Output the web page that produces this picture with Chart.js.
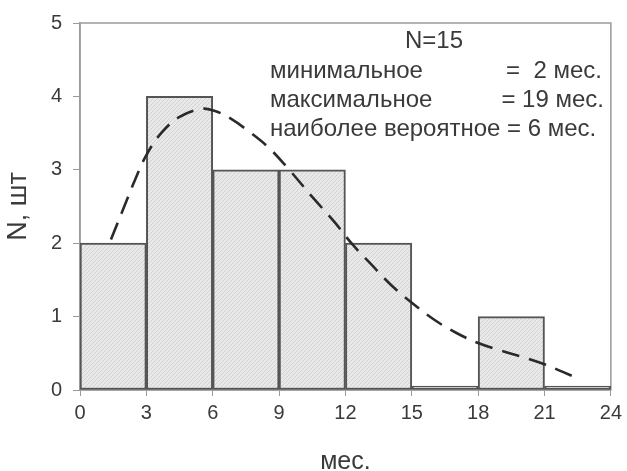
<!DOCTYPE html>
<html>
<head>
<meta charset="utf-8">
<script src="https://cdn.jsdelivr.net/npm/chart.js@4"></script>
<style>
  html, body { margin: 0; padding: 0; background: #fff; }
  #wrap { width: 627px; height: 471px; }
</style>
</head>
<body>
<div id="wrap"><canvas id="c" width="627" height="471"></canvas></div>
<script>
// Histogram of durations, 3-month bins
const binStarts = [0, 3, 6, 9, 12, 15, 18, 21];
const binWidth = 3;
const counts = [2, 4, 3, 3, 2, 0, 1, 0];

// Fitted distribution curve (dashed)
const curveX = [1.4, 2.0, 2.5, 3.0, 3.7, 4.5, 5.5, 6.1, 6.8, 7.6, 8.5, 9.4, 10.5, 11.5, 12.3, 13.2, 14.1, 15.0, 16.0, 17.0, 18.0, 19.0, 20.0, 21.0, 21.8, 22.5];
const curveY = [2.05, 2.5, 2.87, 3.2, 3.51, 3.72, 3.83, 3.8, 3.7, 3.53, 3.31, 3.02, 2.63, 2.29, 1.99, 1.7, 1.42, 1.19, 0.96, 0.78, 0.64, 0.54, 0.45, 0.35, 0.25, 0.16];

// Axis ticks
const xTicks = [0, 3, 6, 9, 12, 15, 18, 21, 24];
const yTicks = [0, 1, 2, 3, 4, 5];

// Annotation text
const infoTitle = 'N=15';
const infoLabels = ['минимальное', 'максимальное'];
const infoValues = ['=  2 мес.', '= 19 мес.'];
const infoLast = 'наиболее вероятное = 6 мес.';

const FONT = '"Liberation Sans", Arial, sans-serif';
const TEXT = '#3a3a3a';

// light diagonal hatch for the bars
function hatch() {
  const p = document.createElement('canvas');
  p.width = 4; p.height = 4;
  const g = p.getContext('2d');
  g.fillStyle = '#e9e9e9';
  g.fillRect(0, 0, 4, 4);
  g.strokeStyle = '#d2d2d2';
  g.lineWidth = 1;
  g.beginPath();
  g.moveTo(0, 4); g.lineTo(4, 0);
  g.moveTo(-1, 1); g.lineTo(1, -1);
  g.moveTo(3, 5); g.lineTo(5, 3);
  g.stroke();
  return g.createPattern(p, 'repeat');
}

const frame = {
  id: 'frame',
  beforeDatasetsDraw(chart) {
    const a = chart.chartArea, ctx = chart.ctx;
    ctx.save();
    ctx.strokeStyle = '#9a9a9a';
    ctx.lineWidth = 1.5;
    ctx.strokeRect(a.left, a.top, a.right - a.left, a.bottom - a.top);
    ctx.restore();
  }
};

const info = {
  id: 'info',
  afterDraw(chart) {
    const a = chart.chartArea, ctx = chart.ctx;
    ctx.save();
    ctx.fillStyle = TEXT;
    ctx.font = '24px ' + FONT;
    ctx.textBaseline = 'alphabetic';
    ctx.textAlign = 'center';
    ctx.fillText(infoTitle, a.left + 354, a.top + 25);
    ctx.textAlign = 'left';
    ctx.fillText(infoLabels[0], a.left + 190, a.top + 55);
    ctx.fillText(infoLabels[1], a.left + 190, a.top + 84);
    ctx.fillText(infoLast, a.left + 190, a.top + 113);
    ctx.textAlign = 'right';
    ctx.fillText(infoValues[0], a.left + 522, a.top + 55);
    ctx.fillText(infoValues[1], a.left + 524, a.top + 84);
    ctx.restore();
  }
};

new Chart(document.getElementById('c'), {
  type: 'bar',
  data: {
    datasets: [
      {
        type: 'line',
        order: 0,
        data: curveX.map((x, i) => ({ x: x, y: curveY[i] })),
        borderColor: '#2a2a2a',
        borderWidth: 2.6,
        borderDash: [18, 10],
        tension: 0.4,
        pointRadius: 0,
        fill: false
      },
      {
        type: 'bar',
        order: 1,
        data: binStarts.map((s, i) => ({ x: s + binWidth / 2, y: counts[i] })),
        backgroundColor: hatch(),
        borderColor: '#555',
        borderWidth: 2,
        borderSkipped: false,
        minBarLength: 4,
        barPercentage: 1,
        categoryPercentage: 1,
        grouped: false
      }
    ]
  },
  options: {
    responsive: false,
    animation: false,
    layout: { padding: { top: 22, right: 13, left: 0, bottom: 0 } },
    plugins: { legend: { display: false }, tooltip: { enabled: false } },
    scales: {
      x: {
        type: 'linear',
        min: 0, max: 24,
        offset: false,
        afterFit(s) { s.height = 81; },
        afterBuildTicks(s) { s.ticks = xTicks.map(v => ({ value: v })); },
        grid: { display: true, offset: false, drawOnChartArea: false, tickLength: 6, color: '#9a9a9a', tickColor: '#9a9a9a' },
        border: { display: true, color: '#9a9a9a', width: 1.5 },
        ticks: { color: TEXT, font: { family: FONT, size: 20 }, padding: 5, maxRotation: 0 },
        title: { display: true, text: 'мес.', color: TEXT, font: { family: FONT, size: 25, lineHeight: 0.72 }, padding: { top: 0, bottom: 0 } }
      },
      y: {
        min: 0, max: 5,
        afterFit(s) { s.width = 80; },
        afterBuildTicks(s) { s.ticks = yTicks.map(v => ({ value: v })); },
        grid: { display: true, drawOnChartArea: false, tickLength: 7, color: '#9a9a9a', tickColor: '#9a9a9a' },
        border: { display: true, color: '#9a9a9a', width: 1.5 },
        ticks: { color: TEXT, font: { family: FONT, size: 20 }, padding: 11 },
        title: { display: true, text: 'N, шт', color: TEXT, font: { family: FONT, size: 27 }, padding: { top: 2, bottom: 0 } }
      }
    }
  },
  plugins: [frame, info]
});
</script>
</body>
</html>
